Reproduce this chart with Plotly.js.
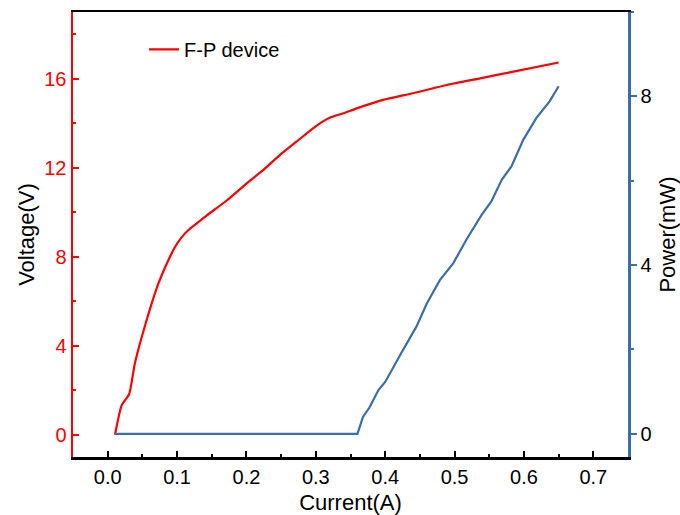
<!DOCTYPE html>
<html>
<head>
<meta charset="utf-8">
<script src="https://cdn.plot.ly/plotly-3.0.1.min.js"></script>
<style>html,body{margin:0;padding:0;background:#fff;}#chart{width:680px;height:515px;}</style>
</head>
<body>
<div id="chart"></div>
<script>
// Voltage vs current (left axis)
const currentV = [0.0105, 0.020, 0.031, 0.039, 0.049, 0.061, 0.073, 0.083, 0.097, 0.106, 0.116, 0.128, 0.143, 0.172, 0.200, 0.224, 0.248, 0.272, 0.296, 0.308, 0.320, 0.340, 0.359, 0.397, 0.440, 0.489, 0.537, 0.585, 0.650];
const voltage  = [0, 1.31, 1.83, 3.18, 4.38, 5.66, 6.79, 7.54, 8.44, 8.85, 9.19, 9.49, 9.86, 10.54, 11.29, 11.89, 12.57, 13.17, 13.77, 14.04, 14.25, 14.45, 14.67, 15.05, 15.35, 15.72, 16.02, 16.32, 16.73];
// Power vs current (right axis)
const currentP = [0.0105, 0.360, 0.368, 0.378, 0.390, 0.400, 0.424, 0.445, 0.460, 0.479, 0.498, 0.517, 0.539, 0.553, 0.568, 0.582, 0.599, 0.618, 0.637, 0.650];
const power    = [0, 0, 0.40, 0.64, 1.03, 1.23, 1.94, 2.54, 3.09, 3.65, 4.04, 4.60, 5.19, 5.51, 6.02, 6.34, 6.97, 7.49, 7.88, 8.24];

const seriesName = "F-P device";
const xTitle = "Current(A)";
const yTitle = "Voltage(V)";
const y2Title = "Power(mW)";

const FONT = "Liberation Sans, Arial, sans-serif";
const RED = "#ff0000";
const BLUE = "#3a6ea5";

const traces = [
  {x: currentV, y: voltage, type: "scatter", mode: "lines", name: seriesName,
   line: {color: RED, width: 2.2, shape: "spline", smoothing: 0.5}, yaxis: "y"},
  {x: currentP, y: power, type: "scatter", mode: "lines", name: "Power",
   line: {color: BLUE, width: 2.2}, yaxis: "y2", showlegend: false}
];

const layout = {
  width: 680, height: 515,
  margin: {l: 73, r: 52, t: 12, b: 58},
  paper_bgcolor: "#fff", plot_bgcolor: "#fff",
  font: {family: FONT, size: 20, color: "#000"},
  showlegend: true,
  legend: {x: 0.128, y: 0.96, xanchor: "left", yanchor: "top", bgcolor: "rgba(0,0,0,0)",
           font: {family: FONT, size: 20, color: "#000"}},
  xaxis: {
    range: [-0.05, 0.75], dtick: 0.1, tick0: 0, tickformat: ".1f",
    showgrid: false, zeroline: false,
    showline: true, linecolor: "#000", linewidth: 2.5, mirror: true,
    ticks: "inside", ticklen: 6, tickwidth: 2, tickcolor: "#000",
    minor: {dtick: 0.05, tick0: 0, ticks: "inside", ticklen: 3, tickwidth: 2, tickcolor: "#000", showgrid: false},
    tickfont: {family: FONT, size: 20, color: "#000"},
    automargin: false,
    title: {text: xTitle, font: {family: FONT, size: 22, color: "#000"}}
  },
  yaxis: {
    range: [-1, 19], dtick: 4, tick0: 0,
    showgrid: false, zeroline: false,
    showline: true, linecolor: RED, linewidth: 2.5,
    ticks: "inside", ticklen: 6, tickwidth: 2, tickcolor: RED,
    minor: {dtick: 2, tick0: 0, ticks: "inside", ticklen: 3, tickwidth: 2, tickcolor: RED, showgrid: false},
    tickfont: {family: FONT, size: 20, color: RED},
    automargin: true,
    title: {text: yTitle, font: {family: FONT, size: 22, color: "#000"}, standoff: 4}
  },
  yaxis2: {
    overlaying: "y", side: "right", anchor: "x",
    range: [-0.55, 10], dtick: 4, tick0: 0,
    showgrid: false, zeroline: false,
    showline: true, linecolor: BLUE, linewidth: 2.5,
    ticks: "outside", ticklen: 6, tickwidth: 2, tickcolor: BLUE,
    minor: {dtick: 2, tick0: 0, ticks: "outside", ticklen: 3, tickwidth: 2, tickcolor: BLUE, showgrid: false},
    tickfont: {family: FONT, size: 20, color: "#000"},
    automargin: false,
    title: {text: y2Title, font: {family: FONT, size: 22, color: "#000"}}
  }
};

Plotly.newPlot("chart", traces, layout, {staticPlot: true, displayModeBar: false});
</script>
</body>
</html>
